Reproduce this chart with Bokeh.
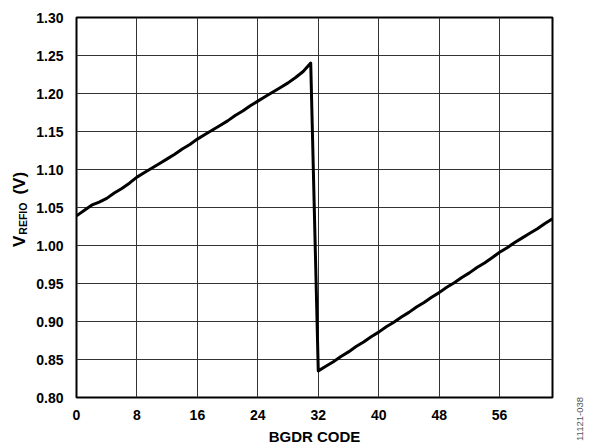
from bokeh.plotting import figure
from bokeh.layouts import row
from bokeh.models import Range1d, FixedTicker, NumeralTickFormatter, ColumnDataSource, Div
from bokeh.embed import file_html
from bokeh.resources import INLINE

# BGDR code vs. V_REFIO (V)
codes = list(range(64))
vrefio = [
    1.039, 1.046, 1.053, 1.057, 1.062, 1.069, 1.075, 1.082,
    1.090, 1.096, 1.102, 1.108, 1.114, 1.120, 1.127, 1.133,
    1.140, 1.146, 1.152, 1.158, 1.164, 1.171, 1.177, 1.184,
    1.190, 1.196, 1.202, 1.208, 1.214, 1.221, 1.229, 1.240,
    0.835, 0.841, 0.847, 0.854, 0.860, 0.867, 0.873, 0.880,
    0.886, 0.893, 0.899, 0.906, 0.912, 0.919, 0.925, 0.932,
    0.938, 0.945, 0.951, 0.958, 0.964, 0.971, 0.977, 0.984,
    0.991, 0.997, 1.004, 1.010, 1.016, 1.022, 1.029, 1.035,
]
x_ticks = [0, 8, 16, 24, 32, 40, 48, 56]
y_ticks = [0.80, 0.85, 0.90, 0.95, 1.00, 1.05, 1.10, 1.15, 1.20, 1.25, 1.30]
x_title = "BGDR CODE"
y_title_main = "V"
y_title_sub = "REFIO"
y_title_unit = "(V)"
fig_id = "11121-038"

FONT = "Liberation Sans"

p = figure(frame_width=476, frame_height=380, output_backend="svg", toolbar_location=None,
           x_range=Range1d(0, 63), y_range=Range1d(0.80, 1.30),
           min_border_left=46, min_border_top=17, min_border_right=4, min_border_bottom=46,
           margin=0)
p.background_fill_color = "white"
p.border_fill_color = "white"
p.outline_line_color = "black"
p.outline_line_width = 2
p.outline_line_alpha = 1

p.xaxis.ticker = FixedTicker(ticks=x_ticks)
p.yaxis.ticker = FixedTicker(ticks=y_ticks)
p.yaxis.formatter = NumeralTickFormatter(format="0.00")
for ax in (p.xaxis[0], p.yaxis[0]):
    ax.axis_line_color = None
    ax.major_tick_line_color = None
    ax.minor_tick_line_color = None
    ax.major_label_text_font = FONT
    ax.major_label_text_font_style = "bold"
    ax.major_label_text_font_size = "14px"
    ax.major_label_text_color = "black"
p.yaxis.major_label_standoff = 7
p.xaxis.major_label_standoff = 6
p.xaxis.axis_label = x_title
p.xaxis.axis_label_text_font = FONT
p.xaxis.axis_label_text_font_style = "bold"
p.xaxis.axis_label_text_font_size = "15px"
p.xaxis.axis_label_text_color = "black"
p.xaxis.axis_label_standoff = 5

p.xgrid.grid_line_color = "#333333"
p.ygrid.grid_line_color = "#333333"
p.xgrid.grid_line_width = 1
p.ygrid.grid_line_width = 1

src = ColumnDataSource(dict(x=codes, y=vrefio))
p.line("x", "y", source=src, line_color="black", line_width=3, line_join="round")

rot = ("position:absolute; transform-origin:0 0; transform:rotate(-90deg); "
       "white-space:nowrap; line-height:1; font-family:'Liberation Sans'; ")
left_html = (
    f'<div style="{rot} left:11px; top:247px; font-weight:bold; font-size:17px; color:black;">'
    f'{y_title_main}<span style="font-size:10.5px; position:relative; top:1.5px; margin-left:1px;">{y_title_sub}</span>'
    f'<span style="margin-left:8px;">{y_title_unit}</span></div>'
)
right_html = (
    f'<div style="{rot} left:19px; top:441px; font-size:9.5px; color:#555555;">{fig_id}</div>'
)
div_left = Div(text=left_html, width=30, height=443, margin=0,
               styles={"position": "relative", "overflow": "visible"})
div_right = Div(text=right_html, width=33, height=443, margin=0,
                styles={"position": "relative", "overflow": "visible"})

layout = row(div_left, p, div_right, spacing=0)

open("out.html", "w").write(file_html(layout, INLINE))
